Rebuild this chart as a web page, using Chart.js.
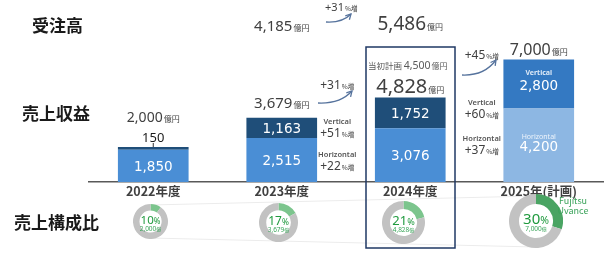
<!DOCTYPE html>
<html>
<head>
<meta charset="utf-8">
<script src="https://cdn.jsdelivr.net/npm/chart.js@4.4.1/dist/chart.umd.min.js"></script>
<style>
body { margin: 0; background: #fff; }
#wrap { position: relative; width: 613px; height: 262px; overflow: hidden; font-family: "Noto Sans CJK JP", "Noto Sans", sans-serif; }
#main { position: absolute; left: 0; top: 0; }
.fila { position: absolute; font-size: 17px; font-weight: bold; color: #1a1a1a; line-height: 20px; white-space: nowrap; }
.dona { position: absolute; }
#uvance { position: absolute; left: 555px; top: 196px; width: 36px; text-align: center; font-size: 9px; line-height: 10px; color: #3aa35a; }
</style>
</head>
<body>
<div id="wrap">
  <canvas id="main" width="613" height="262"></canvas>
  <div class="fila" style="left:32px;top:15px">受注高</div>
  <div class="fila" style="left:22px;top:103px">売上収益</div>
  <div class="fila" style="left:14px;top:212px">売上構成比</div>
  <canvas class="dona" id="dona0"></canvas>
  <canvas class="dona" id="dona1"></canvas>
  <canvas class="dona" id="dona2"></canvas>
  <canvas class="dona" id="dona3"></canvas>
  <div id="uvance">Fujitsu<br>Uvance</div>
</div>
<script>
// datos (億円)
var anios = ['2022年度', '2023年度', '2024年度', '2025年(計画)'];
var horizontal = [1850, 2515, 3076, 4200];
var vertical = [150, 1163, 1752, 2800];
var totales = [2000, 3679, 4828, 7000];
var pedidos = [null, 4185, 5486, null];       // 受注高
var crecPedidos = [null, null, 31, null];     // % vs año anterior
var crecVentas = [null, null, 31, 45];
var crecVertical = [null, null, 51, 60];
var crecHorizontal = [null, null, 22, 37];
var planInicial = [null, null, 4500, null];   // 当初計画
var cuotaUvance = [10, 17, 21, 30];           // 売上構成比 %

var colHoriz = ['#4a8ed5', '#4a8ed5', '#4a8ed5', '#8db7e3'];
var colVert = ['#1f4e79', '#1f4e79', '#1f4e79', '#3479c2'];

var famNum = '"Noto Sans", sans-serif';
var famJP = '"Noto Sans CJK JP", sans-serif';

function fmt(n) { return n.toLocaleString('en-US'); }

// numero grande + unidad pequeña, centrado
function monto(ctx, num, unit, cx, base, size, usize, color) {
    ctx.font = size + 'px ' + famNum;
    var w1 = ctx.measureText(num).width;
    ctx.font = usize + 'px ' + famJP;
    var w2 = ctx.measureText(unit).width;
    var x0 = cx - (w1 + w2 + 1) / 2;
    ctx.fillStyle = color;
    ctx.textAlign = 'left';
    ctx.textBaseline = 'alphabetic';
    ctx.font = size + 'px ' + famNum;
    ctx.fillText(num, x0, base);
    ctx.font = usize + 'px ' + famJP;
    ctx.fillText(unit, x0 + w1 + 1, base);
}

function flecha(ctx, x0, y0, x1, y1) {
    var cx = x0 + (x1 - x0) * 0.65, cy = y0 + 1;
    ctx.save();
    ctx.strokeStyle = '#56739d';
    ctx.lineWidth = 1.3;
    ctx.beginPath();
    ctx.moveTo(x0, y0);
    ctx.quadraticCurveTo(cx, cy, x1, y1);
    ctx.stroke();
    var a = Math.atan2(y1 - cy, x1 - cx);
    ctx.beginPath();
    ctx.moveTo(x1 - 6 * Math.cos(a - 0.5), y1 - 6 * Math.sin(a - 0.5));
    ctx.lineTo(x1, y1);
    ctx.lineTo(x1 - 6 * Math.cos(a + 0.5), y1 - 6 * Math.sin(a + 0.5));
    ctx.stroke();
    ctx.restore();
}

function textoSimple(ctx, txt, cx, base, font, color) {
    ctx.font = font;
    ctx.fillStyle = color;
    ctx.textAlign = 'center';
    ctx.textBaseline = 'alphabetic';
    ctx.fillText(txt, cx, base);
}

function crecTexto(ctx, v, cx, base, size) {
    var a = '+' + v, b = '%増';
    ctx.font = size + 'px ' + famNum; var w1 = ctx.measureText(a).width;
    ctx.font = '6.5px ' + famJP; var w2 = ctx.measureText(b).width;
    var x0 = cx - (w1 + w2 + 1) / 2;
    ctx.fillStyle = '#404040'; ctx.textAlign = 'left'; ctx.textBaseline = 'alphabetic';
    ctx.font = size + 'px ' + famNum; ctx.fillText(a, x0, base);
    ctx.font = '6.5px ' + famJP; ctx.fillText(b, x0 + w1 + 1, base);
}

var anotaciones = {
    id: 'anotaciones',
    beforeDatasetsDraw: function(chart) {
        var ctx = chart.ctx;
        // lineas tenues entre donas
        ctx.save();
        ctx.strokeStyle = '#ececec';
        ctx.lineWidth = 1.2;
        ctx.beginPath();
        ctx.moveTo(150, 205); ctx.lineTo(536, 196);
        ctx.moveTo(150, 238); ctx.lineTo(536, 247);
        ctx.stroke();
        ctx.restore();
    },
    afterDatasetsDraw: function(chart) {
        var ctx = chart.ctx;
        var mh = chart.getDatasetMeta(0);
        var mv = chart.getDatasetMeta(1);
        var tamTotal = [14, 15, 20, 16];
        var sepTotal = [25, 10, 4.5, 4.5];
        var tamPedido = [0, 15, 19, 0];
        var basePedido = [0, 31, 30, 0];
        var dxCrec = [0, 0, -73, -57];
        var gris = '#404040';

        ctx.save();
        for (var i = 0; i < anios.length; i++) {
            var bh = mh.data[i], bv = mv.data[i];
            var x = bh.x;
            var top = bv.y;

            // etiqueta del eje
            ctx.font = 'bold 12.5px ' + famJP;
            ctx.fillStyle = '#404040';
            ctx.textAlign = 'center';
            ctx.textBaseline = 'middle';
            ctx.fillText(anios[i], x, chart.chartArea.bottom + 9);
            ctx.textBaseline = 'alphabetic';

            // total
            monto(ctx, fmt(totales[i]), '億円', x, top - sepTotal[i], tamTotal[i], 8, gris);

            // pedidos
            if (pedidos[i] !== null) {
                monto(ctx, fmt(pedidos[i]), '億円', x, basePedido[i], tamPedido[i], 8, gris);
            }

            // plan inicial
            if (planInicial[i] !== null) {
                var s1 = '当初計画 ', s2 = fmt(planInicial[i]), s3 = '億円';
                ctx.font = '8.5px ' + famJP; var w1 = ctx.measureText(s1).width;
                ctx.font = '10.5px ' + famNum; var w2 = ctx.measureText(s2).width;
                ctx.font = '8px ' + famJP; var w3 = ctx.measureText(s3).width;
                var x0 = x - 3 - (w1 + w2 + w3) / 2;
                ctx.fillStyle = '#595959'; ctx.textAlign = 'left';
                ctx.font = '8.5px ' + famJP; ctx.fillText(s1, x0, 69);
                ctx.font = '10.5px ' + famNum; ctx.fillText(s2, x0 + w1, 69);
                ctx.font = '8px ' + famJP; ctx.fillText(s3, x0 + w1 + w2 + 1, 69);
            }

            // valores dentro de las barras
            var fNum = '13.5px "DejaVu Sans", sans-serif';
            var ch = (bh.y + bh.base) / 2;
            var cv = (bv.y + bv.base) / 2;
            if (i === 3) {
                textoSimple(ctx, 'Vertical', x, cv - 9, 'bold 7px ' + famNum, '#dce9f7');
                textoSimple(ctx, fmt(vertical[i]), x, cv + 6, fNum, '#ffffff');
                textoSimple(ctx, 'Horizontal', x, ch - 6, '7px ' + famNum, '#eef4fb');
                textoSimple(ctx, fmt(horizontal[i]), x, ch + 6, fNum, '#ffffff');
            } else {
                textoSimple(ctx, fmt(horizontal[i]), x, ch + 5, fNum, '#ffffff');
                if (bv.base - bv.y > 12) {
                    textoSimple(ctx, fmt(vertical[i]), x, cv + 5, fNum, '#ffffff');
                } else {
                    textoSimple(ctx, fmt(vertical[i]), x, 142, '13px ' + famNum, '#1a1a1a');
                    ctx.strokeStyle = '#333'; ctx.lineWidth = 1;
                    ctx.beginPath(); ctx.moveTo(x, 143); ctx.lineTo(x, top); ctx.stroke();
                }
            }

            // crecimientos
            if (crecVentas[i] !== null) {
                var gx = x + dxCrec[i];
                crecTexto(ctx, crecVentas[i], gx, i === 2 ? 89 : 59, 12);
                if (i === 2) flecha(ctx, 318, 103, 352, 91);
                else flecha(ctx, 462, 75, 496, 60);
                var yv = i === 2 ? 124 : 105;
                var yh = i === 2 ? 157 : 141;
                textoSimple(ctx, 'Vertical', gx, yv, '600 7.5px ' + famNum, '#555555');
                crecTexto(ctx, crecVertical[i], gx, yv + 13, 12);
                textoSimple(ctx, 'Horizontal', gx, yh, '600 7.5px ' + famNum, '#555555');
                crecTexto(ctx, crecHorizontal[i], gx, yh + 13, 12);
            }
            if (crecPedidos[i] !== null) {
                crecTexto(ctx, crecPedidos[i], x - 69, 11, 11);
                flecha(ctx, 326, 22, 351, 14);
            }
        }

        // recuadro 2024
        ctx.strokeStyle = '#1f3864';
        ctx.lineWidth = 1.5;
        ctx.strokeRect(366, 47, 89, 201);
        ctx.restore();
    }
};

new Chart(document.getElementById('main').getContext('2d'), {
    type: 'bar',
    data: {
        labels: anios,
        datasets: [
            { label: 'Horizontal', data: horizontal, backgroundColor: colHoriz, borderWidth: 0 },
            { label: 'Vertical', data: vertical, backgroundColor: colVert, borderWidth: 0 }
        ]
    },
    options: {
        responsive: false,
        animation: false,
        events: [],
        layout: { padding: { left: 89, right: 10, top: 42, bottom: 60 } },
        plugins: { legend: { display: false }, tooltip: { enabled: false } },
        datasets: { bar: { categoryPercentage: 1, barPercentage: 0.55 } },
        scales: {
            x: {
                stacked: true,
                grid: { display: false },
                border: { color: '#595959', width: 1.5 },
                ticks: { display: false },
                afterFit: function(s) { s.height = 20; }
            },
            y: { stacked: true, display: false, min: 0, max: 8000 }
        }
    },
    plugins: [anotaciones]
});

// donas 売上構成比
var donaPos = [[150, 221, 17.5], [278, 222, 19.5], [403, 222, 21.5], [536, 221, 27]];
var donaVerde = ['#7cc58d', '#7cc58d', '#7cc58d', '#4aa463'];
var tamPct = [11.5, 12, 13, 15];

cuotaUvance.forEach(function(p, i) {
    var pos = donaPos[i];
    var d = Math.round(pos[2] * 2);
    var cv = document.getElementById('dona' + i);
    cv.width = d; cv.height = d;
    cv.style.left = (pos[0] - d / 2) + 'px';
    cv.style.top = (pos[1] - d / 2) + 'px';
    new Chart(cv.getContext('2d'), {
        type: 'doughnut',
        data: {
            labels: ['Fujitsu Uvance', 'その他'],
            datasets: [{ data: [p, 100 - p], backgroundColor: [donaVerde[i], '#c2c2c2'], borderWidth: 0 }]
        },
        options: {
            responsive: false,
            animation: false,
            events: [],
            cutout: '63%',
            plugins: { legend: { display: false }, tooltip: { enabled: false } }
        },
        plugins: [{
            id: 'centro' + i,
            afterDraw: function(chart) {
                var ctx = chart.ctx, c = d / 2;
                var a = String(p), b = '%';
                var by = c + tamPct[i] * 0.2;
                ctx.save();
                ctx.font = tamPct[i] + 'px ' + famNum; var w1 = ctx.measureText(a).width;
                ctx.font = (tamPct[i] * 0.7) + 'px ' + famNum; var w2 = ctx.measureText(b).width;
                var x0 = c - (w1 + w2) / 2;
                ctx.fillStyle = '#1f9a3e'; ctx.textAlign = 'left'; ctx.textBaseline = 'alphabetic';
                ctx.font = tamPct[i] + 'px ' + famNum; ctx.fillText(a, x0, by);
                ctx.font = (tamPct[i] * 0.7) + 'px ' + famNum; ctx.fillText(b, x0 + w1, by);
                var s = fmt(totales[i]);
                ctx.font = '6.5px ' + famNum; var w3 = ctx.measureText(s).width;
                ctx.font = '5px ' + famJP; var w4 = ctx.measureText('億').width;
                var x1 = c - (w3 + w4) / 2;
                ctx.fillStyle = '#3aa55a';
                ctx.font = '6.5px ' + famNum; ctx.fillText(s, x1, by + 7);
                ctx.font = '5px ' + famJP; ctx.fillText('億', x1 + w3, by + 7);
                ctx.restore();
            }
        }]
    });
});
</script>
</body>
</html>
